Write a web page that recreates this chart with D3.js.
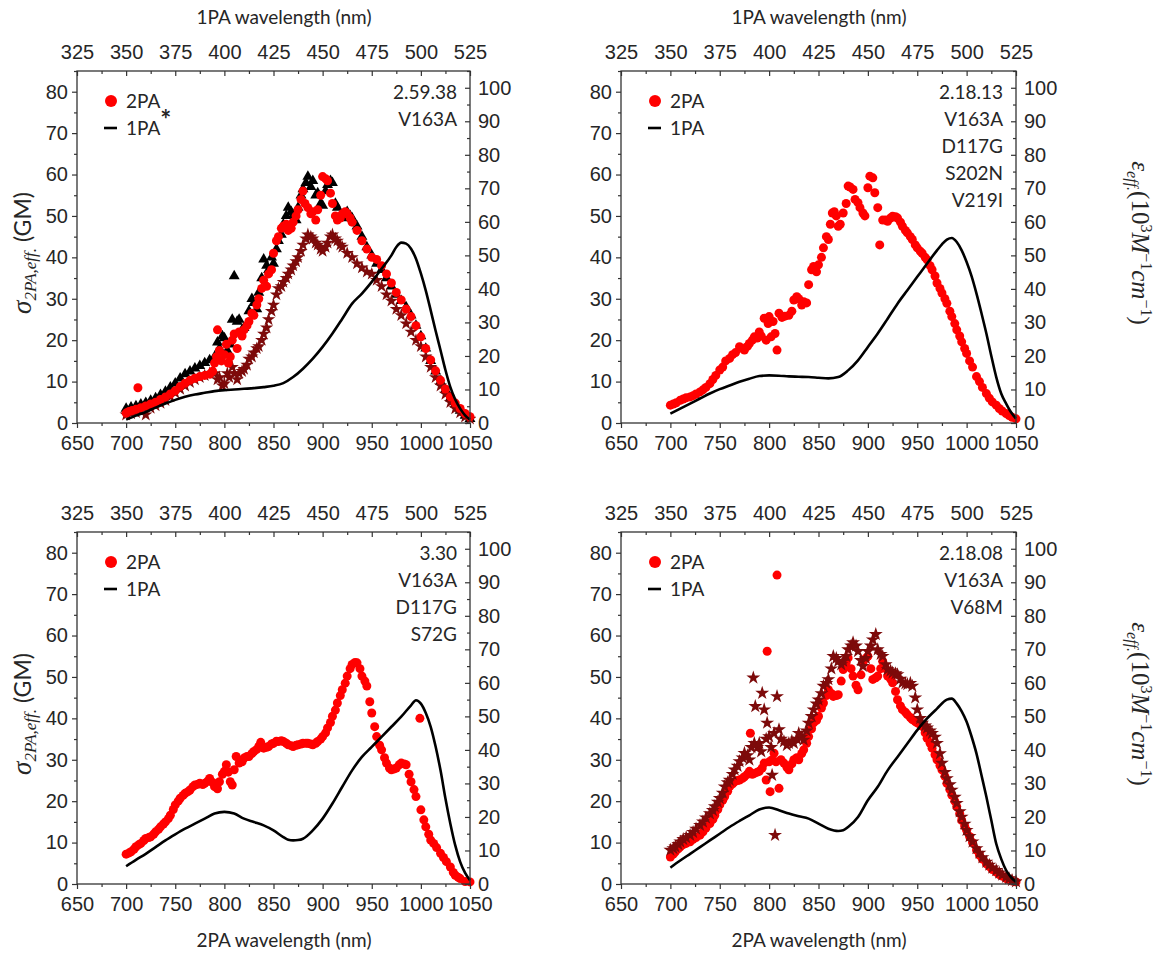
<!DOCTYPE html>
<html>
<head>
<meta charset="utf-8">
<script src="https://cdn.jsdelivr.net/npm/d3@7/dist/d3.min.js"></script>
<style>
  html, body { margin: 0; padding: 0; background: #fff; }
  svg { display: block; }
  .tick text { font-family: "Liberation Sans", Arial, sans-serif; font-size: 20px; fill: #262626; }
  .tick line { stroke: #333; stroke-width: 1.2; }
  .lbl { font-family: Lato, "Open Sans", sans-serif; font-size: 19px; fill: #262626; }
</style>
</head>
<body>
<svg id="chart" width="1155" height="956"></svg>
<script>
// ---- axis ticks ----
const bottomTicks = [650, 700, 750, 800, 850, 900, 950, 1000, 1050];
const bottomMinor = [675, 725, 775, 825, 875, 925, 975, 1025];
const topTicks = [325, 350, 375, 400, 425, 450, 475, 500, 525];
const topMinor = [337.5, 362.5, 387.5, 412.5, 437.5, 462.5, 487.5, 512.5];
const leftTicks = [0, 10, 20, 30, 40, 50, 60, 70, 80];
const leftMinor = [5, 15, 25, 35, 45, 55, 65, 75, 85];
const rightTicks = [0, 10, 20, 30, 40, 50, 60, 70, 80, 90, 100];
const rightMinor = [5, 15, 25, 35, 45, 55, 65, 75, 85, 95, 105];

// ---- sample labels ----
const notesA = ["2.59.38", "V163A"];
const notesB = ["2.18.13", "V163A", "D117G", "S202N", "V219I"];
const notesC = ["3.30", "V163A", "D117G", "S72G"];
const notesD = ["2.18.08", "V163A", "V68M"];

// ---- 2.59.38 V163A ----
const a2PA = [[700,2.4],[703,2.8],[706,3.0],[710,3.3],[712,8.5],[715,3.7],[720,4.1],[725,4.6],[730,5.0],[735,5.7],[740,6.3],[745,7.0],[750,7.8],[755,8.8],[760,9.6],[765,10.3],[770,10.8],[775,11.2],[780,11.5],[785,11.8],[788,12.5],[790,14.5],[792,16],[793,22.5],[795,17.5],[797,15],[800,16.5],[802,19],[804,14.5],[806,16],[808,20],[810,21.5],[813,18],[815,22],[818,21],[820,22.5],[823,23.5],[825,24.5],[828,26.5],[830,26],[833,28.5],[835,30],[838,32.5],[840,34.5],[843,33],[845,36],[848,37],[850,41],[853,44],[855,45],[858,47],[860,47.5],[863,48],[865,46.5],[868,47],[870,48.5],[873,50],[875,51.5],[878,54],[880,56],[882,53],[885,52],[888,50.5],[890,51],[893,49],[895,51.5],[898,55],[900,59.5],[903,59],[905,58.5],[908,55.5],[910,53],[913,50],[915,49],[918,49.5],[920,50.5],[923,51],[925,50.5],[928,49.5],[930,48.5],[935,46.5],[940,44],[945,42],[950,40],[955,39.5],[960,38],[965,36],[970,33.8],[975,31.5],[980,29.7],[985,27.5],[990,25.7],[995,23.5],[1000,20.8],[1005,18],[1010,15.2],[1015,12.6],[1020,10.3],[1025,8.2],[1030,6.3],[1035,4.8],[1040,3.5],[1045,2.3],[1050,1.5]];
const aTri = [[700,3.5],[705,3.8],[710,4.1],[715,4.5],[720,4.9],[725,5.4],[730,6],[735,6.8],[740,7.6],[745,8.6],[750,9.6],[755,10.8],[760,11.8],[765,12.5],[770,13.2],[775,13.8],[780,14.5],[785,15.2],[790,16],[793,19.5],[795,18],[798,21],[800,20.5],[803,17.5],[806,19],[808,25],[810,35.5],[813,24.5],[815,25],[818,22.5],[820,23],[825,27],[828,30],[830,29],[833,27.5],[835,31.5],[838,35],[840,39.5],[843,38],[845,37],[848,40],[850,38.5],[853,42],[855,44],[858,45.5],[860,48],[863,50],[865,52],[868,51],[870,50],[873,49],[875,52],[878,55],[880,56.5],[883,58],[885,59.5],[888,57],[890,58.5],[893,55],[895,55.5],[898,53],[900,52.5],[903,56],[905,57.5],[908,58.5],[910,58],[913,53],[915,52],[918,50],[920,49.5],[923,50.5],[925,51],[928,50],[930,49.5],[935,47.5],[940,45],[945,42.5],[950,40.5],[955,38.5],[960,37],[965,35],[970,33],[975,31],[980,29.5],[985,28],[990,26],[995,23.5],[1000,21],[1005,18],[1010,15],[1015,12.5],[1020,10],[1025,8],[1030,6],[1035,4.5],[1040,3],[1045,1.8],[1050,1]];
const aStar = [[700,2],[705,2.3],[710,2.6],[715,2.9],[720,2],[725,3.6],[730,4.2],[735,4.8],[740,5.5],[745,6.4],[750,7.3],[755,8.2],[760,9],[765,9.8],[770,10.5],[775,11],[780,11.5],[785,12],[790,12],[793,10.5],[795,11],[798,9],[800,9.5],[803,12],[805,11],[808,13.5],[810,12],[813,10.5],[815,12],[818,12.5],[820,13],[823,14],[825,15.5],[828,16],[830,17],[833,18],[835,18.5],[838,20],[840,21.5],[843,23],[845,25],[848,27],[850,28.5],[853,31],[855,32.5],[858,33],[860,34],[863,35],[865,36],[868,37],[870,38],[873,39],[875,40],[878,41.5],[880,43],[883,44.5],[885,45.5],[888,45],[890,44.5],[893,43.5],[895,43],[898,42],[900,41.5],[903,42.5],[905,43.5],[908,45],[910,45.5],[913,44.5],[915,44],[918,43],[920,42.5],[925,41],[930,40],[935,38.5],[940,37.5],[945,36.5],[950,36],[955,34.5],[960,33],[965,31],[970,29.5],[975,27.5],[980,26],[985,24],[990,22],[995,20],[1000,18.5],[1005,16],[1010,13.5],[1015,11],[1020,9],[1025,7],[1030,5],[1035,3.5],[1040,2.5],[1045,1.5],[1050,1]];
const a1PA = [[700,1],[710,2.2],[720,3.3],[730,4.6],[740,5.8],[750,6.9],[760,7.8],[770,8.5],[780,9],[790,9.5],[800,9.8],[810,10],[820,10.2],[830,10.4],[840,10.7],[850,11.1],[860,11.9],[870,13.7],[880,16.2],[890,19.2],[900,22.7],[910,26.7],[920,31.1],[930,35.6],[940,38.6],[950,42.1],[960,46],[970,50],[975,52.5],[980,53.8],[985,53.5],[990,52],[995,49],[1000,44.6],[1005,39.5],[1010,33.6],[1015,27.5],[1020,21.7],[1025,15.8],[1030,10.7],[1035,7],[1040,4.3],[1045,2.3],[1050,1]];

// ---- 2.18.13 ----
const b2PA = [[700,4.3],[703,4.6],[706,4.9],[710,5.5],[713,5.8],[716,6.1],[720,6.3],[723,6.6],[726,7],[730,7.5],[733,8],[736,8.6],[740,9.5],[743,10.5],[746,11.5],[750,12.8],[753,13.5],[756,15],[760,15.6],[763,16.5],[766,17],[770,18.4],[773,18],[775,17.6],[778,18.5],[780,19.2],[783,20],[785,20.8],[788,20.5],[790,22],[792,21],[795,25.3],[797,20],[799,24],[800,25.7],[802,20.8],[804,24.5],[806,21.6],[808,17.6],[810,26.5],[813,25.5],[816,25.8],[820,26],[823,27],[825,29.7],[828,30.5],[830,30],[833,28.5],[835,29.3],[838,29],[840,33.4],[843,37],[845,37.8],[848,36.5],[850,38.2],[853,40],[855,42.3],[858,45],[860,44.3],[862,48],[864,50.7],[866,51],[868,50],[870,47.5],[872,48],[875,50.7],[878,53],[880,57.2],[882,57],[885,56.4],[887,54],[890,53.2],[892,52],[895,50.7],[897,50],[900,56.8],[902,59.6],[905,59.2],[907,55.6],[910,52],[912,43],[915,49],[918,49],[920,48.7],[923,49.5],[925,49.9],[928,49.8],[930,49.5],[933,48.5],[935,47.5],[938,46.5],[940,45.9],[943,45],[945,44.3],[948,43],[950,42.3],[953,41.5],[955,41],[958,40],[960,39.4],[963,38],[965,37],[968,35.5],[970,33.8],[973,32.5],[975,31.4],[978,30],[980,28.9],[983,27],[985,25.7],[988,24],[990,22.5],[993,21],[995,19.6],[998,18],[1000,16.8],[1003,15],[1006,13.5],[1010,11.2],[1013,10],[1016,8.6],[1020,7.1],[1023,6],[1026,5.1],[1030,4.3],[1033,3.5],[1036,2.9],[1040,2.3],[1043,1.8],[1046,1.4],[1050,1]];
const b1PA = [[700,2.8],[710,4.3],[720,5.8],[730,7.3],[740,8.8],[750,10.1],[760,11.2],[770,12.3],[780,13.2],[790,14],[800,14.2],[810,14.1],[820,13.9],[830,13.8],[840,13.7],[850,13.5],[860,13.3],[870,13.7],[880,15.7],[890,18.7],[900,22.7],[910,26.7],[920,31.1],[930,35.6],[940,39.6],[950,43.6],[960,47.6],[970,51.5],[975,53.3],[980,54.7],[985,55.2],[990,54],[995,51.5],[1000,48],[1005,43.8],[1010,38.6],[1015,32.8],[1020,26.7],[1025,20],[1030,13.7],[1035,8.8],[1040,5.8],[1045,3.2],[1050,1.3]];

// ---- 3.30 ----
const c2PA = [[700,7.2],[703,7.5],[705,7.8],[708,8.4],[710,9],[713,9.5],[715,9.8],[718,10.5],[720,11],[723,11.2],[725,11.4],[728,12],[730,12.6],[733,13.2],[735,13.8],[738,14.5],[740,15],[743,15.8],[745,16.6],[748,18],[750,19.1],[753,20],[755,20.7],[758,21.4],[760,21.9],[763,22.3],[765,22.7],[768,23.5],[770,23.9],[773,24.1],[775,24.3],[778,24],[780,24.3],[783,24.8],[785,25.5],[788,24.5],[790,23.5],[793,23],[795,24.7],[798,26.5],[800,27.2],[802,28.8],[804,27],[806,24.7],[808,23.9],[810,27.6],[812,30.8],[815,29.2],[818,29.5],[820,30.4],[823,30.8],[825,30.8],[828,31.5],[830,32],[833,32.5],[835,33.2],[837,34.2],[840,32.8],[843,33],[845,33.2],[848,33.8],[850,34],[853,34.5],[855,34.4],[858,34.6],[860,34.4],[863,34],[865,33.6],[868,33.4],[870,33.2],[873,33.5],[875,33.6],[878,33.8],[880,34],[883,34],[885,34],[888,33.8],[890,33.6],[893,34],[895,34.4],[898,35],[900,35.6],[903,36.5],[905,37.7],[908,39],[910,40.5],[913,42],[915,43.7],[918,45.5],[920,46.9],[923,48.5],[925,50.2],[928,52],[930,53],[933,53.5],[935,53.4],[938,52],[940,50.2],[943,49],[945,47.8],[948,44],[950,41.3],[953,38],[955,35.6],[958,33.5],[960,32.4],[963,30.5],[965,29.2],[968,28],[970,27.6],[973,27.8],[975,28],[978,28.8],[980,29.2],[983,29],[985,28.8],[988,26.5],[990,24.7],[993,22.8],[995,21.1],[999,40],[1000,17.9],[1003,15.5],[1005,13.8],[1008,12],[1010,10.6],[1013,9.8],[1016,8.8],[1020,7.4],[1023,6.4],[1026,5.4],[1030,4.1],[1033,2.8],[1035,2.1],[1038,1.6],[1040,1.3],[1045,0.6],[1050,0.5]];
const c1PA = [[700,5.3],[710,7.2],[720,9],[730,11],[740,13],[750,14.8],[760,16.5],[770,18],[780,19.5],[790,21],[800,21.5],[810,21],[820,19.5],[830,18.5],[840,17.5],[850,16],[860,14],[865,13.2],[870,13],[875,13.1],[880,13.5],[890,16],[900,19.5],[910,24],[920,29],[930,33.9],[940,37.9],[950,40.9],[960,43.9],[970,46.9],[980,49.9],[990,53.3],[995,54.8],[1000,53.8],[1005,51],[1010,46.9],[1015,41],[1020,33.9],[1025,25.5],[1030,18],[1035,11.5],[1040,6.6],[1045,3.3],[1050,1.1]];

// ---- 2.18.08 ----
const d2PA = [[700,6.5],[703,7.2],[705,7.8],[708,8.5],[710,9],[713,9.5],[716,9.8],[720,10.2],[723,10.8],[726,11.2],[730,11.8],[733,12.6],[736,13.5],[740,14.6],[743,15.6],[745,16.6],[748,18],[750,19.1],[753,20.2],[755,21.1],[758,22.4],[760,23.5],[763,24.2],[765,24.7],[768,25],[770,25.1],[773,25.5],[775,25.9],[778,26.5],[780,27.2],[781,36.4],[783,26.5],[785,26.7],[788,27],[790,27.2],[793,28],[795,29.2],[797,25.1],[798,56.2],[800,29.5],[801,22.3],[803,30],[805,31.6],[807,29.5],[808,74.6],[810,23.1],[812,30],[815,29.2],[818,28.2],[820,27.6],[823,29],[825,30],[828,30.5],[830,30],[833,31.5],[835,32.4],[838,34],[840,35.6],[843,37.5],[845,38.9],[848,39.5],[850,40.5],[853,42.5],[855,43.7],[858,45.5],[860,46.9],[863,46],[865,45.3],[868,45.5],[870,45.7],[873,49],[875,51.8],[878,53.5],[880,54.6],[883,52],[885,50.2],[888,48],[890,46.9],[893,50.5],[895,53.4],[898,54.5],[900,55],[903,52],[905,49.4],[908,49.8],[910,50.2],[913,52],[915,53.8],[918,52],[920,50.2],[923,49.5],[925,48.6],[928,46.5],[930,44.5],[933,43],[935,42.1],[938,41.5],[940,40.9],[943,40.2],[945,39.7],[948,39.2],[950,38.9],[953,38.5],[955,38.1],[958,36.5],[960,35.2],[963,34],[965,32.8],[968,31.2],[970,30],[973,28.6],[975,27.6],[978,26],[980,24.3],[983,22.8],[985,21.5],[988,20],[990,18.7],[993,17],[995,15.4],[998,14],[1000,13],[1003,11.5],[1006,10],[1010,8.2],[1013,7],[1016,6],[1020,4.9],[1023,4.2],[1026,3.5],[1030,2.9],[1033,2.3],[1036,1.9],[1040,1.3],[1043,1],[1046,0.7],[1050,0.5]];
const dStar = [[700,8.2],[703,8.6],[705,9],[708,9.6],[710,10.2],[713,10.8],[716,11.2],[720,11.8],[723,12.5],[726,13.3],[730,14.2],[733,15],[736,16],[740,17],[743,17.8],[745,18.7],[748,19.8],[750,20.7],[753,22],[755,23.5],[758,24.5],[760,25.1],[763,26.5],[765,27.6],[768,28.5],[770,29.6],[773,30.5],[775,31.6],[778,31],[780,30],[782,33],[784,49.8],[785,34],[786,42.9],[788,33],[790,34],[792,32],[793,46.1],[795,42.1],[797,35],[798,38.9],[800,35.6],[802,33],[803,26.3],[805,36.4],[806,11.8],[808,45.3],[810,37.3],[812,35],[815,34.4],[818,33.5],[820,34],[823,34.5],[825,34],[828,35],[830,36.4],[833,35.5],[835,34.8],[838,37],[840,38.9],[843,40.5],[845,42.1],[848,43.5],[850,44.5],[853,46],[855,47.8],[858,48.5],[860,49.4],[863,52],[865,55],[868,54.5],[870,53.8],[873,53],[875,53.8],[878,55],[880,56.6],[883,57.5],[885,58.3],[888,57.5],[890,56.2],[893,54],[895,52.6],[898,54.5],[900,56.2],[903,57.5],[905,59],[908,60.3],[910,56.6],[913,55.5],[915,55],[918,53],[920,51.8],[923,51.5],[925,51],[928,50.8],[930,50.6],[933,49.5],[935,48.6],[938,48.4],[940,48.2],[943,48.5],[945,47.8],[948,45],[950,42.1],[953,40],[955,38.9],[958,38.2],[960,37.7],[963,37],[965,36.4],[968,35.5],[970,34],[973,31.5],[975,29.2],[978,27],[980,25.5],[983,24],[985,22.7],[988,21],[990,19.5],[993,17.5],[995,16.2],[998,14.5],[1000,13],[1003,11.5],[1006,10.2],[1010,8.6],[1013,7.5],[1016,6.4],[1020,5.3],[1023,4.6],[1026,3.9],[1030,3.3],[1033,2.7],[1036,2.2],[1040,1.7],[1043,1.3],[1046,0.9],[1050,0.6]];
const d1PA = [[700,4.9],[710,7],[720,9],[730,11],[740,13],[750,15],[760,17],[770,18.8],[780,20.5],[790,22.2],[800,22.8],[810,22],[820,21],[830,20.2],[840,19.5],[850,18],[860,16.5],[870,15.8],[875,16],[880,17],[890,20],[900,25],[910,29],[920,33.9],[930,37.9],[940,41.9],[950,45.9],[960,49.4],[970,52.3],[980,55],[985,55.3],[990,53.8],[995,51.5],[1000,48.4],[1005,44],[1010,38.9],[1015,32.5],[1020,26],[1025,19],[1030,12],[1035,7.5],[1040,4.1],[1045,2],[1050,0.6]];

// ---- styling ----
const RED = "#ff0000", DARKRED = "#7d0a0a", INK = "#262626";

const panels = [
  { x0: 77,  y0: 71,  x1: 470,  y1: 423, topAxis: true,  bottomTitle: false, leftTitle: true,  rightTitle: false, star: true,
    notes: notesA, tri: aTri, stars: aStar, red: a2PA, line: a1PA, titleX: 284 },
  { x0: 621, y0: 71,  x1: 1016, y1: 423, topAxis: true,  bottomTitle: false, leftTitle: false, rightTitle: true,  star: false,
    notes: notesB, red: b2PA, line: b1PA, titleX: 819 },
  { x0: 77,  y0: 532, x1: 470,  y1: 884, topAxis: false, bottomTitle: true,  leftTitle: true,  rightTitle: false, star: false,
    notes: notesC, red: c2PA, line: c1PA, titleX: 284 },
  { x0: 621, y0: 532, x1: 1016, y1: 884, topAxis: false, bottomTitle: true,  leftTitle: false, rightTitle: true,  star: false,
    notes: notesD, stars: dStar, red: d2PA, line: d1PA, titleX: 819 }
];

const svg = d3.select("#chart");

function drawPanel(p) {
  const g = svg.append("g");
  const x = d3.scaleLinear().domain([650, 1050]).range([p.x0, p.x1]);
  const xTop = d3.scaleLinear().domain([325, 525]).range([p.x0, p.x1]);
  const yL = d3.scaleLinear().domain([0, 85]).range([p.y1, p.y0]);
  const yR = d3.scaleLinear().domain([0, 105]).range([p.y1, p.y0]);

  const clipId = "clip" + p.x0 + "_" + p.y0;
  g.append("clipPath").attr("id", clipId).append("rect")
    .attr("x", p.x0 - 6).attr("y", p.y0).attr("width", p.x1 - p.x0 + 12).attr("height", p.y1 - p.y0 + 6);

  // scatter + line
  const plot = g.append("g").attr("clip-path", `url(#${clipId})`);
  if (p.tri) {
    plot.append("g").selectAll("path").data(p.tri).join("path")
      .attr("d", d3.symbol(d3.symbolTriangle, 52))
      .attr("transform", d => `translate(${x(d[0])},${yL(d[1])})`)
      .attr("fill", "#000");
  }
  if (p.stars && p.star) {
    plot.append("g").selectAll("path").data(p.stars).join("path")
      .attr("d", d3.symbol(d3.symbolStar, 55))
      .attr("transform", d => `translate(${x(d[0])},${yL(d[1])})`)
      .attr("fill", DARKRED);
  }
  plot.append("g").selectAll("circle").data(p.red).join("circle")
    .attr("cx", d => x(d[0])).attr("cy", d => yL(d[1])).attr("r", 4.5)
    .attr("fill", RED);
  if (p.stars && !p.star) {
    plot.append("g").selectAll("path").data(p.stars).join("path")
      .attr("d", d3.symbol(d3.symbolStar, 60))
      .attr("transform", d => `translate(${x(d[0])},${yL(d[1])})`)
      .attr("fill", DARKRED);
  }
  plot.append("path").datum(p.line)
    .attr("d", d3.line().x(d => x(d[0])).y(d => yR(d[1])).curve(d3.curveMonotoneX))
    .attr("fill", "none").attr("stroke", "#000").attr("stroke-width", 2.6);

  // axes
  const ax = (axis, tx, ty) => {
    const a = g.append("g").attr("transform", `translate(${tx},${ty})`).call(axis);
    a.select(".domain").remove();
    return a;
  };
  ax(d3.axisBottom(x).tickValues(bottomTicks).tickSize(5).tickPadding(8).tickFormat(d3.format("d")), 0, p.y1);
  ax(d3.axisBottom(x).tickValues(bottomMinor).tickSize(3).tickFormat(""), 0, p.y1);
  ax(d3.axisTop(xTop).tickValues(topTicks).tickSizeInner(-5).tickSizeOuter(0).tickPadding(12).tickFormat(d3.format("d")), 0, p.y0);
  ax(d3.axisTop(xTop).tickValues(topMinor).tickSizeInner(-3).tickSizeOuter(0).tickFormat(""), 0, p.y0);
  ax(d3.axisLeft(yL).tickValues(leftTicks).tickSize(5).tickPadding(4).tickFormat(d3.format("d")), p.x0, 0);
  ax(d3.axisLeft(yL).tickValues(leftMinor).tickSize(3).tickFormat(""), p.x0, 0);
  ax(d3.axisRight(yR).tickValues(rightTicks).tickSizeInner(-5).tickSizeOuter(0).tickPadding(8).tickFormat(d3.format("d")), p.x1, 0);
  ax(d3.axisRight(yR).tickValues(rightMinor).tickSizeInner(-3).tickSizeOuter(0).tickFormat(""), p.x1, 0);

  g.append("rect").attr("x", p.x0).attr("y", p.y0)
    .attr("width", p.x1 - p.x0).attr("height", p.y1 - p.y0)
    .attr("fill", "none").attr("stroke", "#333").attr("stroke-width", 1.3);

  // legend
  g.append("circle").attr("cx", p.x0 + 34).attr("cy", p.y0 + 30).attr("r", 6).attr("fill", RED);
  g.append("text").attr("class", "lbl").attr("x", p.x0 + 49).attr("y", p.y0 + 30).attr("dy", "0.35em").text("2PA");
  g.append("line").attr("x1", p.x0 + 27).attr("x2", p.x0 + 40).attr("y1", p.y0 + 57).attr("y2", p.y0 + 57)
    .attr("stroke", "#000").attr("stroke-width", 2.6);
  const l1 = g.append("text").attr("class", "lbl").attr("x", p.x0 + 49).attr("y", p.y0 + 57).attr("dy", "0.35em");
  l1.append("tspan").text("1PA");
  if (p.star) l1.append("tspan").attr("dy", "-0.2em").attr("font-size", "26px").attr("font-weight", 700).text("*");

  // sample labels
  g.append("g").selectAll("text").data(p.notes).join("text").attr("class", "lbl")
    .attr("x", p.x1 - 13).attr("y", (d, i) => p.y0 + 21 + i * 27).attr("dy", "0.35em")
    .attr("text-anchor", "end").text(d => d);

  // titles
  if (p.topAxis) {
    g.append("text").attr("class", "lbl").attr("x", p.titleX).attr("y", p.y0 - 54).attr("dy", "0.35em")
      .attr("text-anchor", "middle").text("1PA wavelength (nm)");
  }
  if (p.bottomTitle) {
    g.append("text").attr("class", "lbl").attr("x", p.titleX).attr("y", p.y1 + 56).attr("dy", "0.35em")
      .attr("text-anchor", "middle").text("2PA wavelength (nm)");
  }
  const cy = (p.y0 + p.y1) / 2;
  if (p.leftTitle) {
    const t = g.append("text").attr("transform", `translate(31,${cy + 6}) rotate(-90)`)
      .attr("text-anchor", "middle").attr("fill", INK);
    t.append("tspan").attr("font-family", "Liberation Serif, serif").attr("font-style", "italic").attr("font-size", "27px").text("σ");
    t.append("tspan").attr("font-family", "Liberation Serif, serif").attr("font-style", "italic").attr("font-size", "17px").attr("dy", "5").text("2PA,eff.");
    t.append("tspan").attr("font-family", "Lato, sans-serif").attr("font-size", "23px").attr("dy", "-5").text(" (GM)");
  }
  if (p.rightTitle) {
    const t = g.append("text").attr("transform", `translate(1132,${cy - 4}) rotate(90)`)
      .attr("text-anchor", "middle").attr("fill", INK)
      .attr("font-family", "Liberation Serif, serif").attr("font-size", "25px");
    t.append("tspan").attr("font-style", "italic").text("ε");
    t.append("tspan").attr("font-style", "italic").attr("font-size", "16px").attr("dy", "5").text("eff.");
    t.append("tspan").attr("dy", "-5").text("(10");
    t.append("tspan").attr("font-size", "16px").attr("dy", "-9").text("3");
    t.append("tspan").attr("font-style", "italic").attr("dy", "9").text("M");
    t.append("tspan").attr("font-size", "16px").attr("dy", "-9").text("−1");
    t.append("tspan").attr("font-style", "italic").attr("dy", "9").text("cm");
    t.append("tspan").attr("font-size", "16px").attr("dy", "-9").text("−1");
    t.append("tspan").attr("dy", "9").text(")");
  }
}

panels.forEach(drawPanel);
</script>
</body>
</html>
